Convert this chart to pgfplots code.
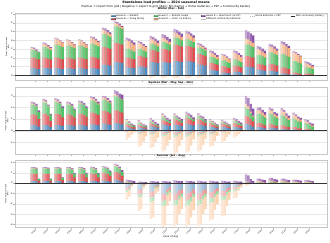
\documentclass[border=0pt]{standalone}
\usepackage{pgfplots}
\usepackage{pgfplotstable}
\usepackage{fontspec}
\setmainfont{DejaVu Sans}
\pgfplotsset{compat=1.18}

\definecolor{hA}{RGB}{74,140,196}
\definecolor{hB}{RGB}{228,74,84}
\definecolor{hC}{RGB}{78,196,104}
\definecolor{hD}{RGB}{248,178,122}
\definecolor{hE}{RGB}{140,84,168}

% ---------- WINTER ----------
\pgfplotstableread{
h A1 B1 C1 D1 E1 A2 B2 C2 D2 E2 A3 B3 C3 D3 E3 A4 B4 C4 D4 E4
0 0.80 1.20 0.90 0.20 0.15 0.80 1.20 0.90 0.10 0.15 0.75 1.15 0.85 0.05 0.15 0.70 1.10 0.80 0.00 0.10
1 0.85 1.15 1.20 0.40 0.15 0.85 1.15 1.20 0.30 0.15 0.80 1.10 1.15 0.25 0.15 0.75 1.05 1.10 0.20 0.10
2 0.80 1.20 1.50 0.70 0.10 0.80 1.20 1.50 0.60 0.10 0.75 1.15 1.45 0.55 0.10 0.70 1.10 1.40 0.50 0.05
3 0.80 1.20 1.40 0.60 0.10 0.80 1.20 1.40 0.50 0.10 0.75 1.15 1.35 0.45 0.10 0.70 1.10 1.30 0.40 0.05
4 0.80 1.20 1.40 0.60 0.10 0.80 1.20 1.40 0.50 0.10 0.75 1.15 1.35 0.45 0.10 0.70 1.10 1.30 0.40 0.05
5 0.80 1.30 1.50 0.70 0.15 0.80 1.30 1.50 0.60 0.15 0.75 1.25 1.45 0.55 0.15 0.70 1.20 1.40 0.50 0.10
6 1.20 2.00 1.50 0.50 0.25 1.20 2.00 1.50 0.40 0.25 1.15 1.95 1.45 0.35 0.25 1.10 1.90 1.40 0.30 0.20
7 1.50 2.20 1.90 0.40 0.20 1.50 2.20 1.90 0.30 0.20 1.45 2.15 1.85 0.25 0.20 1.40 2.10 1.80 0.20 0.15
8 0.90 1.10 1.00 1.00 0.30 0.90 1.10 1.00 0.90 0.30 0.85 1.05 0.95 0.85 0.30 0.80 1.00 0.90 0.80 0.25
9 1.00 1.20 0.80 0.70 0.20 1.00 1.20 0.80 0.60 0.20 0.95 1.15 0.75 0.55 0.20 0.90 1.10 0.70 0.50 0.15
10 1.50 1.40 0.70 0.60 0.30 1.50 1.40 0.70 0.50 0.30 1.45 1.35 0.65 0.45 0.30 1.40 1.30 0.60 0.40 0.25
11 1.50 1.50 0.80 0.50 0.40 1.50 1.50 0.80 0.40 0.40 1.45 1.45 0.75 0.35 0.40 1.40 1.40 0.70 0.30 0.35
12 1.60 1.90 0.80 0.60 0.40 1.60 1.90 0.80 0.50 0.40 1.55 1.85 0.75 0.45 0.40 1.50 1.80 0.70 0.40 0.35
13 1.60 1.75 0.75 0.70 0.30 1.60 1.75 0.75 0.60 0.30 1.55 1.70 0.70 0.55 0.30 1.50 1.65 0.65 0.50 0.25
14 1.20 1.20 0.75 0.35 0.20 1.20 1.20 0.75 0.25 0.20 1.15 1.15 0.70 0.20 0.20 1.10 1.10 0.65 0.15 0.15
15 0.60 0.80 0.70 0.50 0.25 0.60 0.80 0.70 0.40 0.25 0.55 0.75 0.65 0.35 0.25 0.50 0.70 0.60 0.30 0.20
16 0.30 0.70 0.70 0.60 0.15 0.30 0.70 0.70 0.50 0.15 0.25 0.65 0.65 0.45 0.15 0.20 0.60 0.60 0.40 0.10
17 0.40 0.70 0.70 0.80 0.25 0.40 0.70 0.70 0.70 0.25 0.35 0.65 0.65 0.65 0.25 0.30 0.60 0.60 0.60 0.20
18 1.00 1.20 1.30 0.70 0.95 1.00 1.20 1.30 0.60 0.90 0.95 1.15 1.25 0.55 0.90 0.90 1.10 1.20 0.50 0.85
19 0.60 0.70 1.00 0.70 0.35 0.60 0.70 1.00 0.60 0.35 0.55 0.65 0.95 0.55 0.35 0.50 0.60 0.90 0.50 0.30
20 0.50 0.80 1.30 0.70 0.30 0.50 0.80 1.30 0.60 0.30 0.45 0.75 1.25 0.55 0.30 0.40 0.70 1.20 0.50 0.25
21 0.20 0.70 1.50 1.20 0.30 0.20 0.70 1.50 1.10 0.30 0.15 0.65 1.45 1.05 0.30 0.10 0.60 1.40 1.00 0.25
22 0.10 0.20 1.30 1.00 0.15 0.10 0.20 1.30 0.90 0.15 0.05 0.15 1.25 0.85 0.15 0.05 0.10 1.20 0.80 0.10
23 0.05 0.15 0.70 0.50 0.20 0.05 0.15 0.70 0.40 0.20 0.05 0.10 0.65 0.35 0.20 0.00 0.10 0.60 0.30 0.15
}\winterpos
\pgfplotstableread{
h A1 B1 C1 D1 A2 B2 C2 D2 A3 B3 C3 D3 A4 B4 C4 D4
9 0 0 0 -0.15 0 0 0 -0.10 0 0 0 -0.05 0 0 0 0
10 0 0 0 -0.30 0 0 0 -0.20 0 0 0 -0.10 0 0 0 -0.05
11 0 0 0 -0.35 0 0 0 -0.25 0 0 0 -0.10 0 0 0 -0.05
12 0 0 0 -0.40 0 0 0 -0.30 0 0 0 -0.15 0 0 0 -0.05
13 0 0 0 -0.40 0 0 0 -0.30 0 0 0 -0.15 0 0 0 -0.05
14 0 0 0 -0.30 0 0 0 -0.20 0 0 0 -0.10 0 0 0 0
15 0 0 0 -0.20 0 0 0 -0.10 0 0 0 -0.05 0 0 0 0
}\winterneg

% ---------- EQUINOX ----------
\pgfplotstableread{
h A1 B1 C1 D1 E1 A2 B2 C2 D2 E2 A3 B3 C3 D3 E3 A4 B4 C4 D4 E4
0 0.50 0.90 0.85 0.10 0.15 0.50 0.90 0.85 0.05 0.15 0.45 0.85 0.80 0.05 0.15 0.35 0.65 0.60 0.00 0.15
1 0.50 0.95 1.00 0.15 0.15 0.50 0.95 0.95 0.10 0.15 0.45 0.85 0.80 0.05 0.10 0.30 0.55 0.50 0.00 0.10
2 0.50 0.95 1.05 0.15 0.15 0.50 0.95 1.00 0.10 0.15 0.45 0.90 0.95 0.05 0.15 0.40 0.75 0.80 0.00 0.15
3 0.50 0.90 0.85 0.10 0.15 0.50 0.90 0.85 0.05 0.15 0.45 0.85 0.80 0.05 0.15 0.40 0.75 0.65 0.00 0.10
4 0.50 0.95 0.90 0.10 0.15 0.50 0.95 0.90 0.05 0.15 0.45 0.90 0.85 0.05 0.15 0.40 0.80 0.75 0.00 0.15
5 0.55 1.00 1.05 0.20 0.15 0.55 1.00 1.05 0.15 0.15 0.50 0.95 1.00 0.15 0.15 0.45 0.90 0.90 0.10 0.15
6 0.60 1.10 0.95 0.20 0.15 0.60 1.10 0.95 0.15 0.15 0.55 1.05 0.90 0.15 0.15 0.50 1.00 0.85 0.10 0.15
7 0.65 1.10 1.25 0.15 0.35 0.65 1.10 1.20 0.10 0.35 0.60 1.05 1.15 0.05 0.35 0.55 1.00 1.10 0.05 0.40
8 0.30 0.25 0.20 0.15 0.10 0.25 0.20 0.15 0.10 0.10 0.20 0.15 0.10 0.05 0.10 0.15 0.15 0.10 0.00 0.10
9 0.30 0.20 0.20 0.10 0.10 0.25 0.15 0.15 0.05 0.10 0.20 0.10 0.10 0.05 0.10 0.15 0.10 0.10 0.00 0.10
10 0.40 0.25 0.20 0.10 0.15 0.35 0.20 0.15 0.05 0.15 0.30 0.15 0.10 0.05 0.15 0.25 0.10 0.10 0.00 0.15
11 0.55 0.40 0.25 0.15 0.15 0.50 0.35 0.20 0.10 0.15 0.45 0.30 0.15 0.05 0.15 0.40 0.25 0.15 0.00 0.15
12 0.55 0.45 0.25 0.10 0.15 0.50 0.40 0.20 0.05 0.15 0.45 0.35 0.15 0.05 0.15 0.40 0.30 0.15 0.00 0.15
13 0.60 0.50 0.25 0.10 0.20 0.55 0.45 0.20 0.10 0.20 0.50 0.40 0.20 0.05 0.20 0.45 0.35 0.15 0.00 0.20
14 0.55 0.45 0.25 0.10 0.15 0.50 0.40 0.20 0.05 0.15 0.45 0.35 0.20 0.05 0.15 0.40 0.30 0.15 0.00 0.15
15 0.35 0.30 0.15 0.10 0.10 0.30 0.25 0.15 0.05 0.10 0.25 0.20 0.10 0.05 0.10 0.20 0.15 0.10 0.00 0.10
16 0.30 0.30 0.15 0.10 0.10 0.30 0.25 0.10 0.05 0.10 0.25 0.20 0.10 0.05 0.10 0.20 0.15 0.10 0.00 0.10
17 0.30 0.35 0.20 0.10 0.15 0.30 0.30 0.20 0.05 0.15 0.25 0.25 0.15 0.05 0.15 0.20 0.20 0.15 0.00 0.15
18 0.60 0.70 0.70 0.30 0.70 0.55 0.65 0.65 0.25 0.70 0.45 0.55 0.50 0.15 0.65 0.35 0.45 0.40 0.10 0.60
19 0.30 0.35 0.80 0.30 0.25 0.30 0.35 0.80 0.30 0.25 0.25 0.30 0.75 0.25 0.25 0.20 0.25 0.70 0.20 0.25
20 0.25 0.35 0.90 0.30 0.20 0.25 0.30 0.85 0.30 0.20 0.20 0.25 0.75 0.20 0.20 0.20 0.20 0.70 0.20 0.20
21 0.15 0.30 0.90 0.40 0.20 0.15 0.30 0.80 0.35 0.20 0.10 0.25 0.70 0.25 0.20 0.10 0.20 0.60 0.20 0.20
22 0.10 0.20 0.75 0.35 0.15 0.10 0.20 0.65 0.30 0.15 0.05 0.15 0.60 0.25 0.15 0.05 0.15 0.55 0.20 0.15
23 0.05 0.10 0.50 0.20 0.15 0.05 0.10 0.45 0.15 0.15 0.05 0.05 0.35 0.10 0.15 0.00 0.05 0.30 0.10 0.15
}\equipos
\pgfplotstableread{
h A1 B1 C1 D1 A2 B2 C2 D2 A3 B3 C3 D3 A4 B4 C4 D4
8 -0.05 -0.05 -0.05 -0.65 0 0 0 -0.60 0 0 0 -0.35 0 0 0 -0.15
9 -0.10 -0.10 -0.10 -1.10 -0.10 -0.10 -0.05 -1.05 -0.05 -0.05 -0.05 -0.80 0 0 0 -0.50
10 -0.10 -0.15 -0.10 -1.15 -0.10 -0.10 -0.10 -1.10 -0.05 -0.05 -0.05 -0.85 0 0 0 -0.60
11 -0.15 -0.20 -0.15 -1.30 -0.15 -0.15 -0.15 -1.25 -0.10 -0.10 -0.10 -1.00 -0.05 -0.05 -0.05 -0.65
12 -0.15 -0.20 -0.20 -1.45 -0.15 -0.20 -0.15 -1.40 -0.10 -0.10 -0.10 -1.05 -0.05 -0.05 -0.05 -0.65
13 -0.15 -0.20 -0.20 -1.35 -0.15 -0.15 -0.15 -1.35 -0.10 -0.10 -0.10 -1.00 -0.05 -0.05 -0.05 -0.60
14 -0.15 -0.20 -0.15 -1.30 -0.10 -0.15 -0.15 -1.30 -0.10 -0.10 -0.10 -0.95 -0.05 -0.05 -0.05 -0.55
15 -0.10 -0.15 -0.10 -1.05 -0.10 -0.10 -0.10 -1.00 -0.05 -0.05 -0.05 -0.75 0 0 0 -0.45
16 -0.05 -0.10 -0.05 -0.80 -0.05 -0.05 -0.05 -0.75 0 0 0 -0.55 0 0 0 -0.30
17 0 -0.05 0 -0.55 0 0 0 -0.50 0 0 0 -0.30 0 0 0 -0.10
18 0 0 0 -0.10 0 0 0 -0.05 0 0 0 0 0 0 0 0
}\equineg

% ---------- SUMMER ----------
\pgfplotstableread{
h A1 B1 C1 D1 E1 A2 B2 C2 D2 E2 A3 B3 C3 D3 E3 A4 B4 C4 D4 E4
0 0.20 0.70 0.50 0.05 0.10 0.20 0.70 0.50 0.05 0.10 0.20 0.70 0.45 0.05 0.10 0.05 0.20 0.15 0.00 0.05
1 0.20 0.70 0.50 0.05 0.10 0.20 0.70 0.50 0.05 0.10 0.20 0.70 0.45 0.05 0.10 0.05 0.20 0.15 0.00 0.05
2 0.20 0.70 0.50 0.05 0.10 0.20 0.70 0.50 0.05 0.10 0.20 0.70 0.45 0.05 0.10 0.05 0.25 0.20 0.00 0.05
3 0.20 0.70 0.50 0.05 0.10 0.20 0.70 0.50 0.05 0.10 0.20 0.65 0.45 0.05 0.10 0.10 0.45 0.35 0.00 0.10
4 0.20 0.70 0.50 0.05 0.10 0.20 0.70 0.50 0.05 0.10 0.20 0.65 0.45 0.05 0.10 0.10 0.45 0.35 0.00 0.10
5 0.20 0.75 0.50 0.05 0.10 0.20 0.70 0.50 0.05 0.10 0.20 0.65 0.45 0.05 0.10 0.10 0.45 0.35 0.00 0.10
6 0.25 0.75 0.50 0.05 0.10 0.25 0.70 0.50 0.05 0.10 0.20 0.70 0.45 0.05 0.10 0.15 0.55 0.40 0.00 0.10
7 0.35 0.75 0.55 0.10 0.15 0.30 0.75 0.50 0.10 0.15 0.25 0.70 0.45 0.05 0.15 0.15 0.55 0.40 0.00 0.15
8 0.05 0.05 0.05 0.00 0.20 0.00 0.05 0.05 0.00 0.20 0.00 0.00 0.05 0.00 0.20 0.00 0.00 0.00 0.00 0.20
9 0.00 0.00 0.00 0.00 0.15 0.00 0.00 0.00 0.00 0.15 0.00 0.00 0.00 0.00 0.10 0.00 0.00 0.00 0.00 0.10
10 0.00 0.00 0.00 0.00 0.20 0.00 0.00 0.00 0.00 0.20 0.00 0.00 0.00 0.00 0.15 0.00 0.00 0.00 0.00 0.15
11 0.00 0.00 0.00 0.00 0.20 0.00 0.00 0.00 0.00 0.20 0.00 0.00 0.00 0.00 0.15 0.00 0.00 0.00 0.00 0.15
12 0.00 0.00 0.00 0.00 0.30 0.00 0.00 0.00 0.00 0.25 0.00 0.00 0.00 0.00 0.20 0.00 0.00 0.00 0.00 0.20
13 0.00 0.00 0.00 0.00 0.25 0.00 0.00 0.00 0.00 0.20 0.00 0.00 0.00 0.00 0.20 0.00 0.00 0.00 0.00 0.15
14 0.00 0.00 0.00 0.00 0.25 0.00 0.00 0.00 0.00 0.20 0.00 0.00 0.00 0.00 0.15 0.00 0.00 0.00 0.00 0.15
15 0.00 0.00 0.00 0.00 0.25 0.00 0.00 0.00 0.00 0.20 0.00 0.00 0.00 0.00 0.15 0.00 0.00 0.00 0.00 0.15
16 0.00 0.00 0.00 0.00 0.25 0.00 0.00 0.00 0.00 0.20 0.00 0.00 0.00 0.00 0.15 0.00 0.00 0.00 0.00 0.15
17 0.05 0.00 0.00 0.00 0.20 0.00 0.00 0.00 0.00 0.20 0.00 0.00 0.00 0.00 0.15 0.00 0.00 0.00 0.00 0.15
18 0.05 0.05 0.05 0.05 0.65 0.05 0.05 0.05 0.00 0.60 0.00 0.00 0.00 0.00 0.40 0.00 0.00 0.00 0.00 0.20
19 0.00 0.05 0.05 0.10 0.25 0.00 0.05 0.05 0.10 0.25 0.00 0.00 0.05 0.05 0.25 0.00 0.00 0.00 0.05 0.25
20 0.00 0.05 0.10 0.10 0.25 0.00 0.05 0.10 0.10 0.25 0.00 0.05 0.05 0.05 0.25 0.00 0.00 0.05 0.05 0.25
21 0.00 0.05 0.10 0.10 0.20 0.00 0.05 0.10 0.10 0.20 0.00 0.00 0.05 0.10 0.20 0.00 0.00 0.05 0.05 0.20
22 0.00 0.00 0.05 0.10 0.20 0.00 0.00 0.05 0.10 0.20 0.00 0.00 0.05 0.05 0.20 0.00 0.00 0.00 0.05 0.20
23 0.00 0.00 0.05 0.10 0.15 0.00 0.00 0.05 0.10 0.15 0.00 0.00 0.05 0.05 0.15 0.00 0.00 0.00 0.05 0.15
}\summerpos
\pgfplotstableread{
h A1 B1 C1 D1 A2 B2 C2 D2 A3 B3 C3 D3 A4 B4 C4 D4
8 -0.40 -0.25 -0.20 -0.75 -0.30 -0.20 -0.15 -0.65 -0.10 -0.05 -0.05 -0.10 0 0 0 -0.10
9 -0.65 -0.45 -0.30 -1.30 -0.60 -0.40 -0.30 -1.20 -0.10 -0.10 -0.05 -0.25 -0.05 0 0 -0.15
10 -0.85 -0.55 -0.40 -1.65 -0.80 -0.50 -0.40 -1.60 -0.25 -0.15 -0.10 -0.50 -0.20 -0.10 -0.10 -0.40
11 -1.00 -0.70 -0.50 -2.05 -1.00 -0.65 -0.50 -1.95 -0.55 -0.35 -0.25 -1.05 -0.40 -0.30 -0.20 -0.80
12 -1.00 -0.65 -0.50 -2.00 -0.95 -0.65 -0.50 -1.90 -0.70 -0.50 -0.35 -1.45 -0.60 -0.40 -0.30 -1.20
13 -1.00 -0.70 -0.50 -2.00 -0.95 -0.65 -0.50 -1.90 -0.80 -0.55 -0.40 -1.55 -0.60 -0.40 -0.30 -1.30
14 -1.00 -0.65 -0.50 -1.95 -0.95 -0.60 -0.45 -1.90 -0.70 -0.50 -0.35 -1.45 -0.60 -0.40 -0.30 -1.20
15 -0.85 -0.60 -0.45 -1.70 -0.85 -0.55 -0.40 -1.70 -0.60 -0.40 -0.30 -1.30 -0.50 -0.30 -0.25 -0.95
16 -0.75 -0.50 -0.40 -1.55 -0.75 -0.50 -0.35 -1.50 -0.50 -0.35 -0.25 -1.10 -0.40 -0.25 -0.20 -0.75
17 -0.35 -0.25 -0.20 -0.70 -0.35 -0.20 -0.15 -0.70 -0.15 -0.10 -0.10 -0.35 -0.10 -0.05 -0.05 -0.20
18 0 0 0 -0.30 0 0 0 -0.20 0 0 0 0 0 0 0 0
}\summerneg

% stacked positive bars of one scenario: #1 table, #2 scenario, #3 shift, #4 colour strength
\newcommand\posbars[4]{%
\addplot[ybar,bar width=0.2,bar shift=#3,draw=none,fill=hE!#4!white,forget plot] table[x=h,y expr={\thisrow{A#2}+\thisrow{B#2}+\thisrow{C#2}+\thisrow{D#2}+\thisrow{E#2}}]{#1};
\addplot[ybar,bar width=0.2,bar shift=#3,draw=none,fill=hD!#4!white,forget plot] table[x=h,y expr={\thisrow{A#2}+\thisrow{B#2}+\thisrow{C#2}+\thisrow{D#2}}]{#1};
\addplot[ybar,bar width=0.2,bar shift=#3,draw=none,fill=hC!#4!white,forget plot] table[x=h,y expr={\thisrow{A#2}+\thisrow{B#2}+\thisrow{C#2}}]{#1};
\addplot[ybar,bar width=0.2,bar shift=#3,draw=none,fill=hB!#4!white,forget plot] table[x=h,y expr={\thisrow{A#2}+\thisrow{B#2}}]{#1};
\addplot[ybar,bar width=0.2,bar shift=#3,draw=none,fill=hA!#4!white,forget plot] table[x=h,y=A#2]{#1};
}
\newcommand\negbars[4]{%
\addplot[ybar,bar width=0.2,bar shift=#3,draw=none,fill=hD!#4!white,forget plot] table[x=h,y expr={\thisrow{A#2}+\thisrow{B#2}+\thisrow{C#2}+\thisrow{D#2}}]{#1};
\addplot[ybar,bar width=0.2,bar shift=#3,draw=none,fill=hC!#4!white,forget plot] table[x=h,y expr={\thisrow{A#2}+\thisrow{B#2}+\thisrow{C#2}}]{#1};
\addplot[ybar,bar width=0.2,bar shift=#3,draw=none,fill=hB!#4!white,forget plot] table[x=h,y expr={\thisrow{A#2}+\thisrow{B#2}}]{#1};
\addplot[ybar,bar width=0.2,bar shift=#3,draw=none,fill=hA!#4!white,forget plot] table[x=h,y=A#2]{#1};
}
\newcommand\season[2]{%
\posbars{#1}{1}{-0.3}{50}\posbars{#1}{2}{-0.1}{70}\posbars{#1}{3}{0.1}{85}\posbars{#1}{4}{0.3}{100}%
\negbars{#2}{1}{-0.3}{30}\negbars{#2}{2}{-0.1}{40}\negbars{#2}{3}{0.1}{50}\negbars{#2}{4}{0.3}{60}%
\draw[gray!40!black,line width=2.4pt] (axis cs:-1.7,0) -- (axis cs:24.5,0);
}

\pgfplotsset{panel/.style={
  scale only axis, width=1225bp, height=265bp,
  xmin=-1.7, xmax=24.5,
  xtick={0,...,23}, xticklabels={},
  xtick pos=left, ytick pos=left,
  tick align=outside,
  axis line style={gray!45, line width=0.8pt},
  major tick length=6bp,
  tick style={gray!60, line width=0.8pt},
  ymajorgrids, major grid style={gray!18, line width=0.7pt},
  /pgf/number format/assume math mode=true,
  yticklabel style={font=\fontsize{9}{10}\selectfont},
  ylabel={Mean net grid import\\(kW)},
  ylabel style={align=center, font=\fontsize{7}{8}\selectfont},
  title style={at={(0.5,1)}, anchor=center, yshift=9bp,
    font=\bfseries\fontsize{10}{12}\selectfont, fill=white, draw=gray!45,
    rounded corners=1.5pt, inner sep=1.5pt},
}}

\begin{document}
\begin{tikzpicture}
\useasboundingbox (0,0) rectangle (1296bp,-954bp);
\node[font=\bfseries\fontsize{12.5}{15}\selectfont, inner sep=0pt] at (652bp,-9bp) {Standalone load profiles — 2024 seasonal means};
\node[font=\fontsize{11}{13}\selectfont, inner sep=0pt] at (652bp,-27bp) {Positive = import from grid \textbar{} Negative = export to grid \textbar{} Bars: No sharing → Home batteries → P2P → Community battery};

% Winter
\begin{axis}[panel, at={(59bp,-51bp)}, anchor=north west,
  ymin=-0.6, ymax=7.12, ytick={0,1,...,7},
  title={Winter (Dec – Feb)},
  legend columns=5,
  legend style={at={(0.9935,0.985)}, anchor=north east, draw=gray!40, fill=white,
    font=\fontsize{9}{10.5}\selectfont, rounded corners=1pt,
    /tikz/every even column/.append style={column sep=36pt}},
  legend cell align=left]
\addlegendimage{area legend, fill=hA, draw=none}\addlegendentry{House A — Student}
\addlegendimage{area legend, fill=hC, draw=none}\addlegendentry{House C — Retired couple}
\addlegendimage{area legend, fill=hE, draw=none}\addlegendentry{House E — Apartment (no PV)}
\addlegendimage{gray!60, dashed, line width=1.5pt}\addlegendentry{Home batteries + P2P}
\addlegendimage{gray!30!black, line width=2pt}\addlegendentry{With community battery}
\addlegendimage{area legend, fill=hB, draw=none}\addlegendentry{House B — Young family}
\addlegendimage{area legend, fill=hD, draw=none}\addlegendentry{House D — Solar, no battery}
\addlegendimage{gray!50, dotted, line width=1.5pt}\addlegendentry{Different community batteries}
\season{\winterpos}{\winterneg}
\end{axis}

% Equinox
\begin{axis}[panel, at={(59bp,-341.6bp)}, anchor=north west,
  ymin=-2.06, ymax=3.77, ytick={-1,0,1,2,3},
  title={Equinox (Mar – May, Sep – Nov)}]
\season{\equipos}{\equineg}
\end{axis}

% Summer
\begin{axis}[panel, at={(59bp,-628.3bp)}, anchor=north west,
  ymin=-4.28, ymax=2.24, ytick={-4,-3,-2,-1,0,1,2},
  title={Summer (Jun – Aug)},
  xticklabels={00:00,01:00,02:00,03:00,04:00,05:00,06:00,07:00,08:00,09:00,10:00,11:00,12:00,13:00,14:00,15:00,16:00,17:00,18:00,19:00,20:00,21:00,22:00,23:00},
  xticklabel style={rotate=45, anchor=north east, font=\fontsize{8}{9}\selectfont, inner sep=0.5pt},
  xlabel={Hour of day}, xlabel style={font=\fontsize{10}{12}\selectfont, yshift=-1bp}]
\season{\summerpos}{\summerneg}
\end{axis}
\end{tikzpicture}
\end{document}
